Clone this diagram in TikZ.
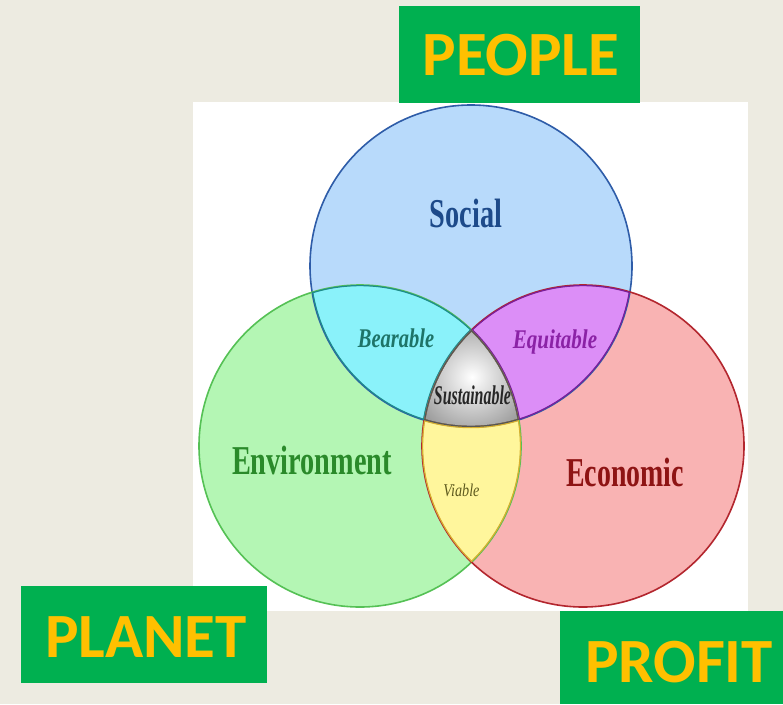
\documentclass[tikz,border=0pt]{standalone}
\usepackage{fontspec}
\usepackage{graphicx}
\setmainfont{Liberation Serif}
\newfontfamily\boxfont{Carlito}

\definecolor{pagebg}{HTML}{EDEBE1}
\definecolor{boxgreen}{HTML}{00B050}
\definecolor{boxgold}{HTML}{FFC000}
\definecolor{socialfill}{HTML}{B8DAFB}
\definecolor{socialline}{HTML}{2E5CA8}
\definecolor{envfill}{HTML}{B4F6B4}
\definecolor{envline}{HTML}{55C155}
\definecolor{ecofill}{HTML}{F9B3B3}
\definecolor{ecoline}{HTML}{B3262E}
\definecolor{bearfill}{HTML}{8AF2FA}
\definecolor{bearline}{HTML}{1E8C8C}
\definecolor{equifill}{HTML}{DC8EF7}
\definecolor{equiline}{HTML}{7A1E9A}
\definecolor{viafill}{HTML}{FFF69C}
\definecolor{vialine}{HTML}{D8B030}
\definecolor{sustline}{HTML}{555555}
\definecolor{socialtext}{HTML}{1D4A8A}
\definecolor{beartext}{HTML}{1E7468}
\definecolor{equitext}{HTML}{8B22A6}
\definecolor{envtext}{HTML}{2A8A2A}
\definecolor{ecotext}{HTML}{8E1414}
\definecolor{viatext}{HTML}{5E5A1E}

\newcommand{\squeezed}[2]{\scalebox{#1}[1]{#2}}

\tikzset{
    greenbox/.style={fill=boxgreen, inner sep=0pt},
    boxlabel/.style={font=\boxfont\bfseries\fontsize{63}{70}\selectfont, text=boxgold, anchor=base, inner sep=0pt},
    bigword/.style={font=\bfseries\fontsize{41}{46}\selectfont, anchor=base, inner sep=0pt},
    smallword/.style={font=\bfseries\itshape\fontsize{27}{30}\selectfont, anchor=base, inner sep=0pt},
    ring/.style={line width=1.6pt}
}

\begin{document}
\begin{tikzpicture}[x=1pt, y=-1pt]
    \useasboundingbox (0,0) rectangle (783,704);
    \fill[pagebg] (0,0) rectangle (783,704);
    \fill[white] (193,102) rectangle (748,611);

    \coordinate (socialc) at (471,266);
    \coordinate (envc) at (360,446);
    \coordinate (ecoc) at (583,446);

    % Circles
    \fill[socialfill] (socialc) circle[radius=161pt];
    \fill[envfill] (envc) circle[radius=161pt];
    \fill[ecofill] (ecoc) circle[radius=161pt];

    % Overlaps with Social
    \begin{scope}
        \clip (socialc) circle[radius=161pt];
        \fill[bearfill] (envc) circle[radius=161pt];
        \fill[equifill] (ecoc) circle[radius=161pt];
    \end{scope}

    % Environment and Economic
    \begin{scope}
        \clip (envc) circle[radius=161pt];
        \fill[viafill] (ecoc) circle[radius=161pt];
    \end{scope}

    % Centre
    \begin{scope}
        \clip (socialc) circle[radius=161pt];
        \clip (envc) circle[radius=161pt];
        \clip (ecoc) circle[radius=161pt];
        \shade[inner color=white, outer color=black!38] (412,318) rectangle (532,436);
    \end{scope}

    \draw[ring, socialline] (socialc) circle[radius=161pt];
    \draw[ring, envline] (envc) circle[radius=161pt];
    \draw[ring, ecoline] (ecoc) circle[radius=161pt];

    \begin{scope}
        \clip (socialc) circle[radius=161pt];
        \clip (envc) circle[radius=161pt];
        \foreach \c in {socialc,envc,ecoc}
            \draw[bearline, line width=2.4pt] (\c) circle[radius=161pt];
    \end{scope}
    \begin{scope}
        \clip (socialc) circle[radius=161pt];
        \clip (ecoc) circle[radius=161pt];
        \foreach \c in {socialc,envc,ecoc}
            \draw[equiline, line width=2.4pt] (\c) circle[radius=161pt];
    \end{scope}
    \begin{scope}
        \clip (envc) circle[radius=161pt];
        \clip (ecoc) circle[radius=161pt];
        \foreach \c in {socialc,envc,ecoc}
            \draw[vialine, line width=2.4pt] (\c) circle[radius=161pt];
    \end{scope}
    \begin{scope}
        \clip (socialc) circle[radius=161pt];
        \clip (envc) circle[radius=161pt];
        \clip (ecoc) circle[radius=161pt];
        \foreach \c in {socialc,envc,ecoc}
            \draw[sustline, line width=2.4pt] (\c) circle[radius=161pt];
    \end{scope}

    % Words
    \node[bigword, text=socialtext] (social) at (466,227) {\squeezed{0.69}{Social}};
    \node[bigword, text=envtext] (environment) at (312,474) {\squeezed{0.69}{Environment}};
    \node[bigword, text=ecotext] (economic) at (625,486) {\squeezed{0.68}{Economic}};
    \node[smallword, text=beartext] (bearable) at (396,347) {\squeezed{0.76}{Bearable}};
    \node[smallword, text=equitext] (equitable) at (555,348) {\squeezed{0.78}{Equitable}};
    \node[smallword, text=black!85] (sustainable) at (472.5,404) {\squeezed{0.59}{Sustainable}};
    \node[smallword, text=viatext, font=\itshape\fontsize{18}{20}\selectfont] (viable) at (461.5,496) {\squeezed{0.79}{Viable}};

    % Boxes
    \node[greenbox, minimum width=241pt, minimum height=97pt] (peoplebox) at (519.5,54.5) {};
    \node[greenbox, minimum width=246pt, minimum height=97pt] (planetbox) at (144,634.5) {};
    \node[greenbox, minimum width=223pt, minimum height=93pt] (profitbox) at (671.5,657.5) {};
    \node[boxlabel] (people) at (521,75) {PEOPLE};
    \node[boxlabel] (planet) at (146,657) {PLANET};
    \node[boxlabel] (profit) at (679,682) {PROFIT};
\end{tikzpicture}
\end{document}
